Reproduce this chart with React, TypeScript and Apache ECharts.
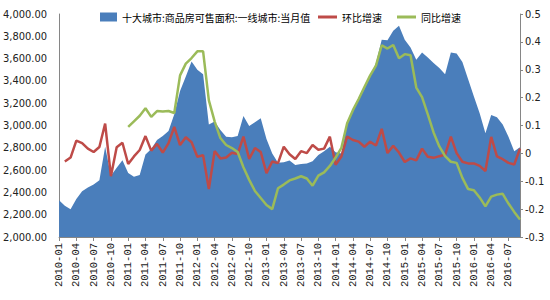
import React, { useEffect, useRef } from "react";
import * as echarts from "echarts";

const AREA_NAME = "十大城市:商品房可售面积:一线城市:当月值";
const MOM_NAME = "环比增速";
const YOY_NAME = "同比增速";

// months 2010-01 .. 2016-09
const categories: string[] = [];
for (let y = 2010; y <= 2016; y++) {
  for (let m = 1; m <= 12; m++) {
    if (y === 2016 && m > 9) break;
    categories.push(`${y}-${m < 10 ? "0" + m : m}`);
  }
}

const areaValues = [
  2330, 2280, 2250, 2340, 2410, 2445, 2470, 2510, 2810, 2550, 2620, 2688,
  2575, 2540, 2555, 2740, 2790, 2870, 2905, 2950, 3100, 3310, 3440, 3575,
  3500, 3460, 3010, 3035, 2960, 2900, 2895, 2905, 3085, 2995, 3030, 3065,
  2880, 2750, 2665, 2670, 2685, 2645, 2655, 2660, 2680, 2735, 2770, 2810,
  2760, 2750, 3020, 3130, 3230, 3330, 3440, 3560, 3770, 3765, 3850, 3895,
  3770, 3700, 3590, 3655, 3610, 3560, 3515, 3460, 3655, 3645, 3570, 3415,
  3260, 3110, 2930, 3095, 3075, 3010, 2900, 2770, 2805,
];

const momValues = [
  null, -0.029, -0.015, 0.046, 0.037, 0.017, 0.005, 0.023, 0.107, -0.082, 0.022, 0.038,
  -0.038, -0.011, 0.012, 0.062, 0.01, 0.034, 0.003, 0.037, 0.095, 0.03, 0.058, 0.04,
  -0.012, -0.007, -0.128, 0.008, -0.018, -0.015, 0.002, -0.002, 0.06, -0.02, 0.019, 0.005,
  -0.071, -0.029, -0.035, 0.024, -0.003, -0.02, 0.008, 0.001, 0.03, 0.013, 0.017, 0.06,
  -0.041, -0.011, 0.06, 0.048, 0.042, 0.024, 0.042, 0.028, 0.088, 0.001, 0.027, 0.003,
  -0.031, -0.018, -0.025, 0.017, -0.012, -0.016, -0.01, -0.005, 0.06, 0.001, -0.03, -0.036,
  -0.036, -0.045, -0.063, 0.059, -0.011, -0.021, -0.034, -0.04, 0.017,
];

const yoyValues = [
  null, null, null, null, null, null, null, null, null, null, null, null,
  0.095, 0.115, 0.135, 0.162, 0.131, 0.152, 0.15, 0.152, 0.145, 0.28, 0.322, 0.342,
  0.366, 0.366, 0.19, 0.115, 0.055, 0.03, 0.019, 0.005, -0.05, -0.095, -0.135, -0.16,
  -0.185, -0.2, -0.125, -0.112, -0.097, -0.09, -0.082, -0.09, -0.116, -0.08, -0.068, -0.045,
  -0.015, 0.02, 0.108, 0.155, 0.195, 0.238, 0.28, 0.315, 0.388, 0.376, 0.389, 0.341,
  0.356, 0.352, 0.236, 0.202, 0.14, 0.075, 0.025, -0.01, -0.03, -0.034, -0.088, -0.128,
  -0.132, -0.158, -0.19, -0.155, -0.148, -0.145, -0.18, -0.21, -0.237,
];

const leftTicks = { min: 2000, max: 4000, interval: 200 };
const rightTicks = { min: -0.3, max: 0.5, interval: 0.1 };

const BLUE = "#4A7EBB";
const RED = "#BE4B48";
const GREEN = "#9BBB59";
const AXIS_GRAY = "#868686";
const NUM_FONT = "'Liberation Sans Narrow', 'DejaVu Sans Condensed', 'Liberation Sans', sans-serif";
const CJK_FONT = "'Noto Sans CJK SC', sans-serif";

export default function App() {
  const ref = useRef<HTMLDivElement>(null);
  useEffect(() => {
    if (!ref.current) return;
    const chart = echarts.init(ref.current, undefined, { renderer: "svg" });
    const legendText = { fontSize: 10, fontFamily: CJK_FONT, color: "#000" };
    chart.setOption({
      animation: false,
      backgroundColor: "#fff",
      grid: { left: 51, right: 30, top: 14, bottom: 63, containLabel: false },
      legend: [
        {
          data: [{ name: AREA_NAME, icon: "rect" }],
          left: 100, top: 12, padding: 0,
          itemWidth: 17, itemHeight: 9, itemGap: 4,
          textStyle: legendText,
        },
        {
          data: [{ name: MOM_NAME, icon: "rect" }],
          left: 318, top: 12, padding: 0,
          itemWidth: 19, itemHeight: 3,
          textStyle: legendText,
        },
        {
          data: [{ name: YOY_NAME, icon: "rect" }],
          left: 397, top: 12, padding: 0,
          itemWidth: 19, itemHeight: 3,
          textStyle: legendText,
        },
      ],
      xAxis: {
        type: "category",
        data: categories,
        boundaryGap: false,
        axisLine: { onZero: false, lineStyle: { color: AXIS_GRAY, width: 1 } },
        axisTick: { interval: 2, length: 4, lineStyle: { color: AXIS_GRAY } },
        axisLabel: {
          interval: 2,
          rotate: 90,
          margin: 6,
          fontSize: 10.5,
          fontFamily: "'Liberation Mono', 'DejaVu Sans Mono', monospace",
          color: "#222",
        },
        splitLine: { show: false },
      },
      yAxis: [
        {
          type: "value",
          min: leftTicks.min,
          max: leftTicks.max,
          interval: leftTicks.interval,
          axisLine: { show: true, lineStyle: { color: AXIS_GRAY } },
          axisTick: { show: false },
          splitLine: { show: false },
          axisLabel: {
            margin: 12,
            fontSize: 11,
            fontFamily: NUM_FONT,
            color: "#222",
            formatter: (v: number) =>
              v.toLocaleString("en-US", { minimumFractionDigits: 2, maximumFractionDigits: 2 }),
          },
        },
        {
          type: "value",
          position: "right",
          min: rightTicks.min,
          max: rightTicks.max,
          interval: rightTicks.interval,
          axisLine: { show: true, lineStyle: { color: AXIS_GRAY } },
          axisTick: { show: true, inside: false, length: 3, lineStyle: { color: AXIS_GRAY } },
          splitLine: { show: false },
          axisLabel: {
            margin: 5,
            fontSize: 11,
            fontFamily: NUM_FONT,
            color: "#222",
            formatter: (v: number) => String(Math.round(v * 10) / 10),
          },
        },
      ],
      series: [
        {
          name: AREA_NAME,
          type: "line",
          yAxisIndex: 0,
          data: areaValues,
          color: BLUE,
          symbol: "none",
          lineStyle: { width: 0, color: BLUE },
          areaStyle: { color: BLUE, opacity: 1 },
          itemStyle: { color: BLUE },
        },
        {
          name: MOM_NAME,
          type: "line",
          yAxisIndex: 1,
          data: momValues,
          color: RED,
          symbol: "none",
          lineStyle: { width: 2.5, color: RED },
          itemStyle: { color: RED },
        },
        {
          name: YOY_NAME,
          type: "line",
          yAxisIndex: 1,
          data: yoyValues,
          color: GREEN,
          symbol: "none",
          lineStyle: { width: 2.5, color: GREEN },
          itemStyle: { color: GREEN },
        },
      ],
    });
    return () => chart.dispose();
  }, []);
  return (
    <div
      ref={ref}
      style={{ position: "fixed", left: 0, top: 0, width: 550, height: 300, background: "#fff" }}
    />
  );
}
